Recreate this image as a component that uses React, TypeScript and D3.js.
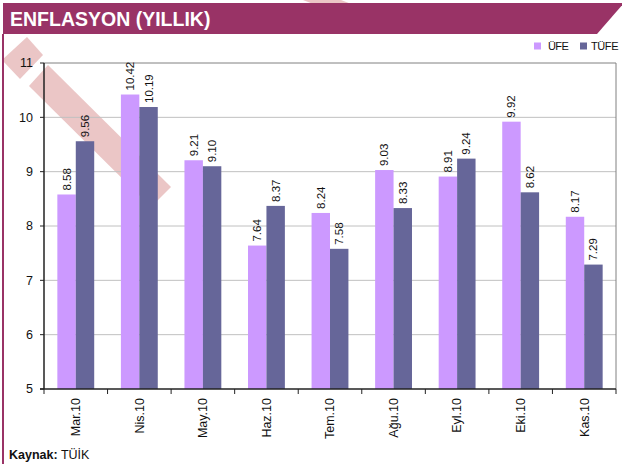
import React from "react";
import * as d3 from "d3";

const categories = ["Mar.10", "Nis.10", "May.10", "Haz.10", "Tem.10", "Ağu.10", "Eyl.10", "Eki.10", "Kas.10"];
const ufe = [8.58, 10.42, 9.21, 7.64, 8.24, 9.03, 8.91, 9.92, 8.17];
const tufe = [9.56, 10.19, 9.1, 8.37, 7.58, 8.33, 9.24, 8.62, 7.29];
const seriesNames = ["ÜFE", "TÜFE"];
const seriesColors = ["#CC99FF", "#666699"];
const yTicks = [5, 6, 7, 8, 9, 10, 11];

const W = 622;
const H = 464;
const plotL = 44;
const plotR = 616;
const plotT = 63;
const plotB = 389;
const font = "'Liberation Sans', Arial, sans-serif";

export default function App() {
  const x = d3.scaleBand<string>().domain(categories).range([plotL, plotR]).paddingInner(0.42).paddingOuter(0.21);
  const xs = d3.scaleBand<string>().domain(seriesNames).range([0, x.bandwidth()]).padding(0);
  const y = d3.scaleLinear().domain([5, 11]).range([plotB, plotT]);
  const series = [ufe, tufe];
  const step = x.step();
  const boundaries = d3.range(categories.length + 1).map((i) => plotL + i * step);

  return (
    <svg width={W} height={H} style={{ position: "absolute", left: 0, top: 0, background: "#fff" }} fontFamily={font}>
      <rect x={0} y={0} width={W} height={H} fill="#fff" />
      {/* watermark stripes */}
      <g fill="#EBC6C6">
        <polygon points="303,0 341,0 350,3.5 312,3.5" />
        <polygon points="27,37 43,55 20,79 2,60" />
        <polygon points="48,65 171,187 151,207 29,86" />
      </g>
      {/* title bar */}
      <polygon points="3,3 624,3 597,34 3,34" fill="#993366" />
      <text x={10} y={26} fill="#fff" fontWeight="bold" fontSize={19.5}>ENFLASYON (YILLIK)</text>
      {/* left border line */}
      <line x1={3} x2={3} y1={34} y2={H} stroke="#993366" strokeWidth={2} />

      {/* gridlines */}
      {yTicks.filter((t) => t > 5 && t < 11).map((t) => (
        <line key={t} x1={plotL} x2={plotR} y1={y(t)} y2={y(t)} stroke="#C0C0C0" strokeWidth={1} />
      ))}
      <line x1={plotL} x2={plotR} y1={y(11)} y2={y(11)} stroke="#808080" strokeWidth={1} />
      <line x1={plotR} x2={plotR} y1={y(11)} y2={plotB} stroke="#808080" strokeWidth={1} />

      {/* bars */}
      {series.map((vals, si) =>
        vals.map((v, i) => {
          const bx = (x(categories[i]) as number) + (xs(seriesNames[si]) as number);
          return (
            <rect key={`${si}-${i}`} x={bx} y={y(v)} width={xs.bandwidth()} height={plotB - y(v)} fill={seriesColors[si]} />
          );
        })
      )}

      {/* value labels */}
      {series.map((vals, si) =>
        vals.map((v, i) => {
          const cx = (x(categories[i]) as number) + (xs(seriesNames[si]) as number) + xs.bandwidth() / 2;
          return (
            <text
              key={`l${si}-${i}`}
              transform={`translate(${cx},${y(v) - 4}) rotate(-90)`}
              fontSize={11.5}
              fill="#111"
              textAnchor="start"
              dy="0.35em"
            >
              {v.toFixed(2)}
            </text>
          );
        })
      )}

      {/* axes */}
      <line x1={plotL} x2={plotL} y1={plotT} y2={plotB} stroke="#222" strokeWidth={1.5} />
      <line x1={plotL - 4} x2={plotR} y1={plotB} y2={plotB} stroke="#222" strokeWidth={1.5} />
      {yTicks.map((t) => (
        <g key={`yt${t}`}>
          <line x1={plotL - 4} x2={plotL} y1={y(t)} y2={y(t)} stroke="#222" strokeWidth={1} />
          <text x={33} y={y(t)} dy="0.35em" textAnchor="end" fontSize={12.5} fill="#111">{t}</text>
        </g>
      ))}
      {boundaries.map((bx, i) => (
        <line key={`xt${i}`} x1={bx} x2={bx} y1={plotB} y2={plotB + 5} stroke="#222" strokeWidth={1} />
      ))}
      {categories.map((c) => {
        const cx = (x(c) as number) + x.bandwidth() / 2;
        return (
          <text key={c} transform={`translate(${cx},${plotB + 9}) rotate(-90)`} textAnchor="end" dy="0.35em" fontSize={12.5} fill="#111">
            {c}
          </text>
        );
      })}

      {/* legend */}
      <rect x={534} y={42.5} width={7} height={7} fill={seriesColors[0]} />
      <text x={548} y={50} fontSize={11} fill="#111" letterSpacing={-0.6}>ÜFE</text>
      <rect x={580} y={42.5} width={7} height={7} fill={seriesColors[1]} />
      <text x={591} y={50} fontSize={11} fill="#111" letterSpacing={-0.4}>TÜFE</text>

      {/* source */}
      <text x={9} y={459} fontSize={12.5} fill="#111">
        <tspan fontWeight="bold">Kaynak:</tspan>
        <tspan> TÜİK</tspan>
      </text>
    </svg>
  );
}
